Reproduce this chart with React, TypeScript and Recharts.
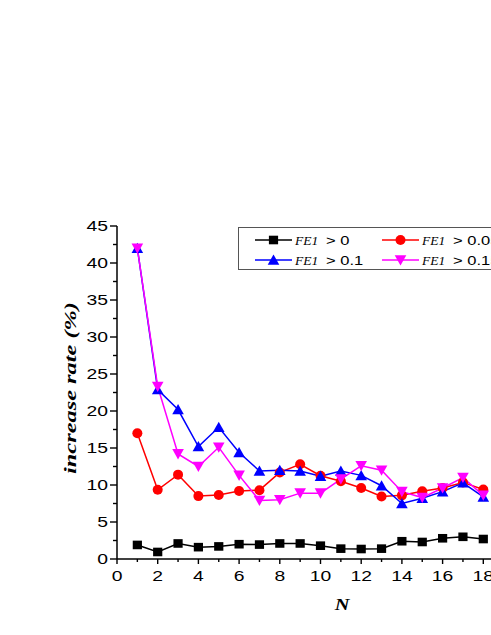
import React from 'react';
import { LineChart, Line, XAxis, YAxis } from 'recharts';

const nValues = [1, 2, 3, 4, 5, 6, 7, 8, 9, 10, 11, 12, 13, 14, 15, 16, 17, 18];
const fe0 = [1.9, 0.95, 2.1, 1.6, 1.7, 2.0, 1.95, 2.1, 2.1, 1.8, 1.4, 1.35, 1.4, 2.4, 2.3, 2.8, 3.0, 2.7];
const fe005 = [17.0, 9.35, 11.4, 8.5, 8.65, 9.2, 9.3, 11.7, 12.8, 11.25, 10.5, 9.6, 8.45, 8.6, 9.15, 9.6, 10.35, 9.4];
const fe01 = [42.0, 22.9, 20.2, 15.2, 17.8, 14.4, 11.9, 12.0, 11.9, 11.2, 11.9, 11.3, 9.9, 7.5, 8.2, 9.1, 10.3, 8.4];
const fe015 = [42.0, 23.3, 14.2, 12.5, 15.1, 11.3, 7.9, 8.0, 8.9, 8.9, 10.8, 12.6, 12.0, 9.1, 8.3, 9.6, 11.0, 8.6];

const seriesThresholds = ['0', '0.05', '0.1', '0.15'];
const seriesKeys = ['fe0', 'fe005', 'fe01', 'fe015'];
const seriesColors = ['#000000', '#ff0000', '#0000ff', '#ff00ff'];
const seriesShapes = ['square', 'circle', 'up', 'down'];

const xTicks = [0, 1, 2, 3, 4, 5, 6, 7, 8, 9, 10, 11, 12, 13, 14, 15, 16, 17, 18, 19, 20];
const yTicks = [0, 2.5, 5, 7.5, 10, 12.5, 15, 17.5, 20, 22.5, 25, 27.5, 30, 32.5, 35, 37.5, 40, 42.5, 45];

const data = nValues.map((n, i) => ({
  n,
  fe0: fe0[i],
  fe005: fe005[i],
  fe01: fe01[i],
  fe015: fe015[i],
}));

const SANS = '"Liberation Sans", Arial, sans-serif';
const SERIF = '"Liberation Serif", "Times New Roman", serif';

function Marker({ shape, cx, cy, color }: { shape: string; cx: number; cy: number; color: string }) {
  if (shape === 'square') {
    return <rect x={cx - 4.6} y={cy - 4.3} width={9.2} height={8.6} fill={color} />;
  }
  if (shape === 'circle') {
    return <circle cx={cx} cy={cy} r={5} fill={color} />;
  }
  if (shape === 'up') {
    return <polygon points={`${cx},${cy - 5.5} ${cx - 5.8},${cy + 4.8} ${cx + 5.8},${cy + 4.8}`} fill={color} />;
  }
  return <polygon points={`${cx},${cy + 5.5} ${cx - 5.8},${cy - 4.8} ${cx + 5.8},${cy - 4.8}`} fill={color} />;
}

const makeDot = (shape: string, color: string) => (props: any) => {
  const { cx, cy, index } = props;
  if (cx == null || cy == null) return <g key={`e-${shape}-${index}`} />;
  return <Marker key={`${shape}-${index}`} shape={shape} cx={cx} cy={cy} color={color} />;
};

const XTick = (props: any) => {
  const { x, y, payload } = props;
  const v = payload.value;
  const major = v % 2 === 0;
  return (
    <g>
      <line x1={x} x2={x} y1={y} y2={y + (major ? 5 : 3)} stroke="#000" strokeWidth={1.4} />
      {major && (
        <text
          transform={`translate(${x},${y + 22}) scale(1.38,1)`}
          textAnchor="middle"
          fontFamily={SANS}
          fontSize={14}
          fill="#000"
        >
          {v}
        </text>
      )}
    </g>
  );
};

const YTick = (props: any) => {
  const { x, y, payload } = props;
  const v = payload.value;
  const major = v % 5 === 0;
  return (
    <g>
      <line x1={x} x2={x - (major ? 7 : 4)} y1={y} y2={y} stroke="#000" strokeWidth={1.4} />
      {major && (
        <text
          transform={`translate(${x - 9},${y + 5.2}) scale(1.38,1)`}
          textAnchor="end"
          fontFamily={SANS}
          fontSize={14}
          fill="#000"
        >
          {v}
        </text>
      )}
    </g>
  );
};

const YTitle = () => (
  <text
    transform="translate(70,388) rotate(-90)"
    textAnchor="middle"
    dy="0.35em"
    fontFamily={SERIF}
    fontStyle="italic"
    fontWeight="bold"
    fontSize={17}
    textLength={172}
    lengthAdjust="spacingAndGlyphs"
    fill="#000"
  >
    increase rate (%)
  </text>
);

const XTitle = () => (
  <text
    transform="translate(342,610) scale(1.2,1)"
    textAnchor="middle"
    fontFamily={SERIF}
    fontStyle="italic"
    fontWeight="bold"
    fontSize={17}
    fill="#000"
  >
    N
  </text>
);

function LegendBox() {
  const cols = [17, 144];
  const rows = [13, 33];
  return (
    <svg
      width={253}
      height={44}
      style={{ position: 'absolute', left: 238, top: 227, overflow: 'hidden' }}
    >
      <rect x={0.5} y={0.5} width={300} height={42} fill="#fff" stroke="#555" strokeWidth={1} />
      {seriesKeys.map((k, i) => {
        const lx = cols[i % 2];
        const ly = rows[Math.floor(i / 2)];
        return (
          <g key={k}>
            <line x1={lx} x2={lx + 37} y1={ly} y2={ly} stroke={seriesColors[i]} strokeWidth={1.5} />
            <Marker shape={seriesShapes[i]} cx={lx + 18.5} cy={ly} color={seriesColors[i]} />
            <text x={lx + 40} y={ly + 5} fontFamily={SERIF} fontStyle="italic" fontSize={13.5} fill="#000">
              FE1
            </text>
            <text
              transform={`translate(${lx + 71},${ly + 5}) scale(1.27,1)`}
              fontFamily={SANS}
              fontSize={13}
              fill="#000"
            >
              {`> ${seriesThresholds[i]}`}
            </text>
          </g>
        );
      })}
    </svg>
  );
}

export default function App() {
  return (
    <div
      style={{
        position: 'fixed',
        left: 0,
        top: 0,
        width: 491,
        height: 635,
        overflow: 'hidden',
        background: '#fff',
      }}
    >
      <div style={{ position: 'absolute', left: 0, top: 0 }}>
        <LineChart width={600} height={635} data={data} margin={{ top: 226, right: 76, bottom: 46, left: 0 }}>
          <XAxis
            dataKey="n"
            type="number"
            domain={[0, 20]}
            ticks={xTicks}
            interval={0}
            height={30}
            tickSize={0}
            tickMargin={0}
            tickLine={false}
            tick={<XTick />}
            axisLine={{ stroke: '#000', strokeWidth: 1.5 }}
            label={<XTitle />}
          />
          <YAxis
            type="number"
            domain={[0, 45]}
            ticks={yTicks}
            interval={0}
            width={117}
            tickSize={0}
            tickMargin={0}
            tickLine={false}
            tick={<YTick />}
            axisLine={{ stroke: '#000', strokeWidth: 1.5 }}
            label={<YTitle />}
          />
          {seriesKeys.map((k, i) => (
            <Line
              key={k}
              dataKey={k}
              stroke={seriesColors[i]}
              strokeWidth={1.5}
              dot={makeDot(seriesShapes[i], seriesColors[i])}
              activeDot={false}
              isAnimationActive={false}
            />
          ))}
        </LineChart>
      </div>
      <LegendBox />
    </div>
  );
}
